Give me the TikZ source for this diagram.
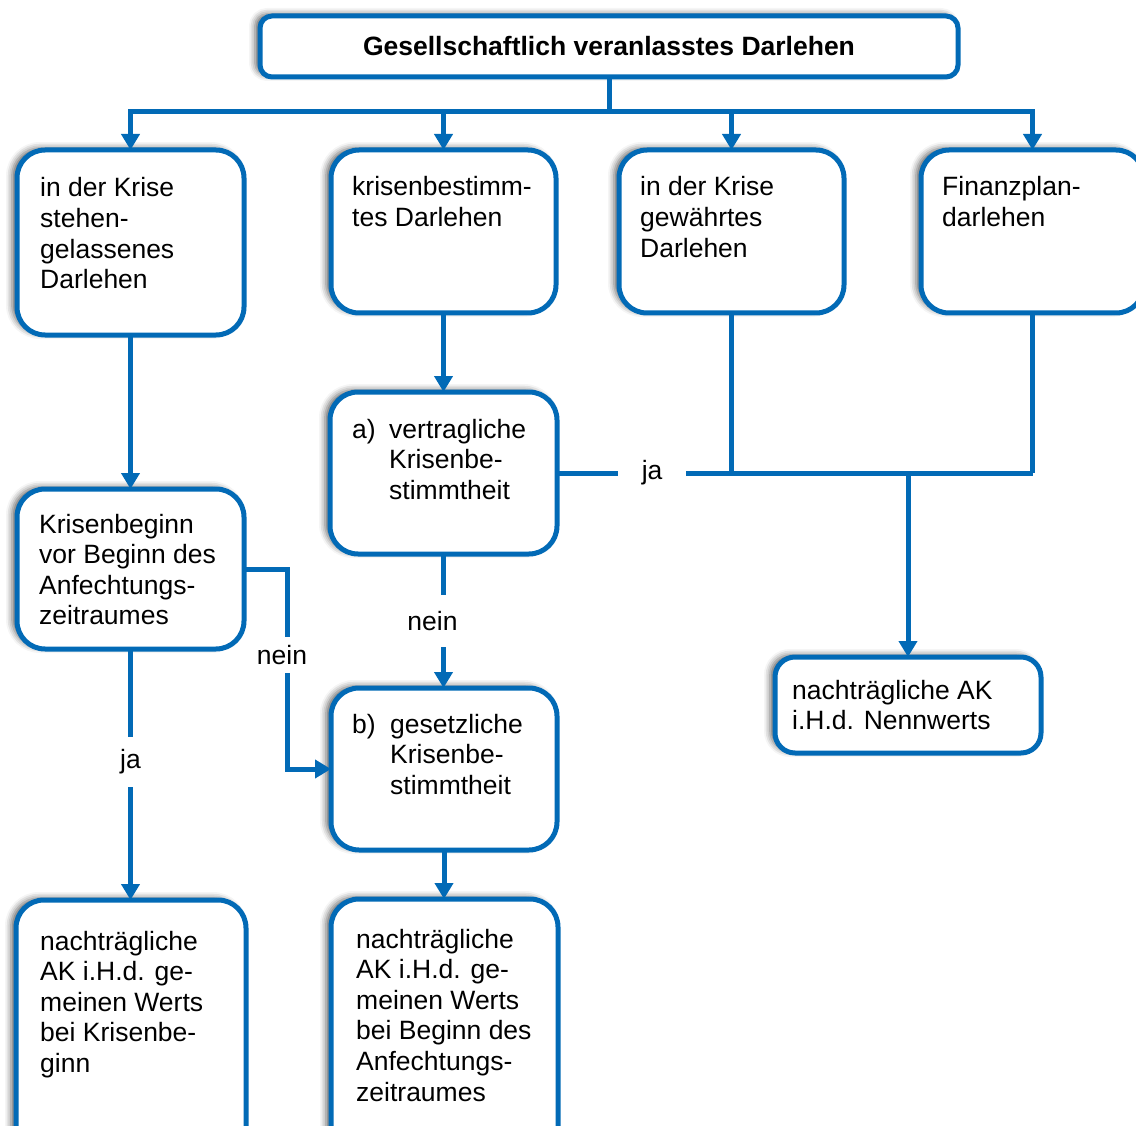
\documentclass[tikz,border=0pt]{standalone}
\usepackage{fontspec}
\setmainfont{Liberation Sans}
\usetikzlibrary{arrows.meta,shadows.blur,calc}
\definecolor{dblue}{RGB}{2,106,182}
\tikzset{
  box/.style={rectangle, draw=dblue, line width=5pt, fill=white, rounded corners=28pt,
    inner sep=0pt, outer sep=0pt, anchor=north west,
    blur shadow={shadow xshift=-5pt, shadow yshift=2pt, shadow blur radius=6pt, shadow opacity=60}},
  txt/.style={inner sep=0pt, anchor=base west, font=\fontsize{26.5}{30.6}\selectfont},
  ln/.style={draw=dblue, line width=5pt},
  arr/.style={ln, -{Triangle[length=16pt,width=18pt]}},
  lbl/.style={fill=white, inner sep=0pt, font=\fontsize{26.5}{30.6}\selectfont},
}
\begin{document}
\begin{tikzpicture}[x=1pt,y=-1pt]
\useasboundingbox (0,0) rectangle (1136,1126);

% boxes
\node[box, rounded corners=12pt, minimum width=698pt, minimum height=61pt,
  font=\fontsize{26.5}{30.6}\selectfont\bfseries] (top) at (260,16) {Gesellschaftlich veranlasstes Darlehen};
\node[box, minimum width=227pt, minimum height=185pt] (b1) at (17,150) {};
\node[box, minimum width=225pt, minimum height=163pt] (b2) at (331,150) {};
\node[box, minimum width=225pt, minimum height=163pt] (b3) at (619,150) {};
\node[box, minimum width=223pt, minimum height=163pt] (b4) at (921,150) {};
\node[box, minimum width=227pt, minimum height=162pt] (a) at (330,392) {};
\node[box, minimum width=227pt, minimum height=160pt] (kb) at (17,489) {};
\node[box, minimum width=226pt, minimum height=162pt] (b) at (331,688) {};
\node[box, rounded corners=20pt, minimum width=266pt, minimum height=96pt] (nw) at (775,657) {};
\node[box, minimum width=230pt, minimum height=260pt] (bot1) at (16,900) {};
\node[box, minimum width=227pt, minimum height=261pt] (bot2) at (331,899) {};

% texts
\node[txt] (b1t) at (40,197) {\parbox[t]{200pt}{in der Krise\\stehen-\\gelassenes\\Darlehen}};
\node[txt] (b2t) at (352,196) {\parbox[t]{200pt}{krisenbestimm-\\tes Darlehen}};
\node[txt] (b3t) at (640,196) {\parbox[t]{200pt}{in der Krise\\gewährtes\\Darlehen}};
\node[txt] (b4t) at (942,196) {\parbox[t]{200pt}{Finanzplan-\\darlehen}};
\node[txt] (al) at (352,438) {a)};
\node[txt] (at) at (389,438) {\parbox[t]{170pt}{vertragliche\\Krisenbe-\\stimmtheit}};
\node[txt] (kbt) at (39,533) {\parbox[t]{200pt}{Krisenbeginn\\vor Beginn des\\Anfechtungs-\\zeitraumes}};
\node[txt] (bl) at (352,733) {b)};
\node[txt] (bt) at (390,733) {\parbox[t]{170pt}{gesetzliche\\Krisenbe-\\stimmtheit}};
\node[txt] (nwt) at (792,699) {\parbox[t]{240pt}{nachträgliche AK\\i.H.d. Nennwerts}};
\node[txt] (bot1t) at (40,950) {\parbox[t]{200pt}{nachträgliche\\AK i.H.d. ge-\\meinen Werts\\bei Krisenbe-\\ginn}};
\node[txt] (bot2t) at (356,948) {\parbox[t]{200pt}{nachträgliche\\AK i.H.d. ge-\\meinen Werts\\bei Beginn des\\Anfechtungs-\\zeitraumes}};

% connectors
\coordinate (bus) at (609,112);
\draw[ln] (top.south) -- (bus);
\draw[arr] (bus) -| (b1.north);
\draw[arr] (bus) -| (b2.north);
\draw[arr] (bus) -| (b3.north);
\draw[arr] (bus) -| (b4.north);

\draw[arr] (b1.south) -- (b1.south |- kb.north);
\draw[arr] (b2.south) -- (b2.south |- a.north);
\draw[arr] (a.south) -- node[lbl, pos=0.5, xshift=-11pt, inner ysep=16pt, inner xsep=3pt] (l1) {nein} (a.south |- b.north);
\draw[arr] (b.south) -- (b.south |- bot2.north);
\draw[arr] (kb.south) -- node[lbl, pos=0.45, inner ysep=13pt, inner xsep=4pt] (l2) {ja} (kb.south |- bot1.north);

\coordinate (nk) at (287,569);
\draw[arr] (kb.east) -- (nk) -- node[lbl, pos=0.43, xshift=-5pt, inner ysep=8pt, inner xsep=3pt] (l3) {nein} (nk |- b.west) -- (b.west);

\draw[ln] (a.east) -- node[lbl, pos=0.2, inner xsep=24pt, inner ysep=3pt] (l4) {ja} (b4.south |- a.east);
\draw[ln] (b3.south) -- (b3.south |- a.east);
\draw[ln] (b4.south) -- (b4.south |- a.east);
\draw[arr] (nw.north |- a.east) -- (nw.north);
\end{tikzpicture}
\end{document}
